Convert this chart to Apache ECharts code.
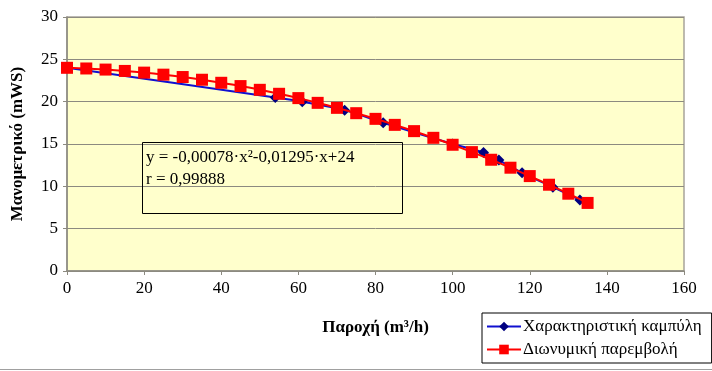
<!DOCTYPE html>
<html><head><meta charset="utf-8">
<script src="https://cdn.jsdelivr.net/npm/echarts@6/dist/echarts.min.js"></script>
<style>html,body{margin:0;padding:0;background:#fff}#c{width:712px;height:371px}</style>
</head><body><div id="c"></div>
<script>
const seriesNames = ['Χαρακτηριστική καμπύλη', 'Διωνυμική παρεμβολή'];
const curveX = [0, 54, 61, 72, 82, 100, 108, 112, 118, 126, 133];
const curveY = [24, 20.5, 20, 19, 17.5, 15, 14, 13.1, 11.6, 9.9, 8.4];
const fitX = [0,5,10,15,20,25,30,35,40,45,50,55,60,65,70,75,80,85,90,95,100,105,110,115,120,125,130,135];
const fitY = [24,23.92,23.79,23.63,23.43,23.19,22.91,22.59,22.23,21.84,21.40,20.93,20.42,19.86,19.27,18.64,17.97,17.26,16.52,15.73,14.91,14.04,13.14,12.20,11.21,10.19,9.13,8.04];
const xTitle = 'Παροχή (m³/h)';
const yTitle = 'Μανομετρικό (mWS)';
const eqLine = 'y = -0,00078·x²-0,01295·x+24';
const rLine = 'r = 0,99888';

const font = '"Liberation Serif", "DejaVu Serif", serif';
const chart = echarts.init(document.getElementById('c'));
chart.setOption({
  animation: false,
  backgroundColor: '#fff',
  grid: { left: 67, right: 28, top: 17, bottom: 100, show: true, backgroundColor: '#FFFFCC', borderColor: '#A8A49A', borderWidth: 1.5 },
  xAxis: {
    type: 'value', min: 0, max: 160, interval: 20,
    name: xTitle, nameLocation: 'middle', nameGap: 48,
    nameTextStyle: { fontFamily: font, fontSize: 17, fontWeight: 'bold', color: '#000' },
    axisLine: { lineStyle: { color: '#8C8A80', width: 1.5 } },
    axisTick: { show: true, length: 4, lineStyle: { color: '#8C8A80' } },
    axisLabel: { fontFamily: font, fontSize: 17, color: '#000', margin: 9 },
    splitLine: { show: false }
  },
  yAxis: {
    type: 'value', min: 0, max: 30, interval: 5,
    name: yTitle, nameLocation: 'middle', nameGap: 41, nameRotate: 90,
    nameTextStyle: { fontFamily: font, fontSize: 17, fontWeight: 'bold', color: '#000' },
    axisLine: { show: true, lineStyle: { color: '#8C8A80', width: 1.5 } },
    axisTick: { show: true, length: 4, inside: false, lineStyle: { color: '#8C8A80' } },
    axisLabel: { fontFamily: font, fontSize: 17, color: '#000', margin: 9 },
    splitLine: { show: true, lineStyle: { color: '#8C8A80', width: 1 } }
  },
  legend: {
    orient: 'vertical', left: 482, top: 313,
    padding: [5, 10, 5, 4], itemGap: 6, itemWidth: 34, itemHeight: 12,
    borderColor: '#000', borderWidth: 1, backgroundColor: '#fff',
    textStyle: { fontFamily: font, fontSize: 17, color: '#000', padding: [0,0,0,-3] },
    data: seriesNames
  },
  series: [
    {
      name: seriesNames[0], type: 'line', smooth: 0.3,
      data: curveX.map((x, i) => [x, curveY[i]]),
      symbol: 'diamond', symbolSize: 11,
      itemStyle: { color: '#000080' },
      lineStyle: { color: '#1010D0', width: 2 },
      z: 2
    },
    {
      name: seriesNames[1], type: 'line', smooth: 0.3,
      data: fitX.map((x, i) => [x, fitY[i]]),
      symbol: 'rect', symbolSize: 12,
      itemStyle: { color: '#FF0000' },
      lineStyle: { color: '#FF0000', width: 2 },
      z: 3
    }
  ],
  graphic: [
    { type: 'rect', left: 142, top: 142, shape: { width: 260, height: 71 }, style: { fill: 'rgba(0,0,0,0)', stroke: '#000', lineWidth: 1 }, z: 10 },
    { type: 'text', left: 146, top: 149, style: { text: eqLine, font: '17px ' + font, fill: '#000' }, z: 11 },
    { type: 'text', left: 146, top: 171, style: { text: rLine, font: '17px ' + font, fill: '#000' }, z: 11 },
    { type: 'line', shape: { x1: 0, y1: 369.5, x2: 712, y2: 369.5 }, style: { stroke: '#A0A0A0', lineWidth: 1 }, z: 0 }
  ]
});
</script></body></html>
